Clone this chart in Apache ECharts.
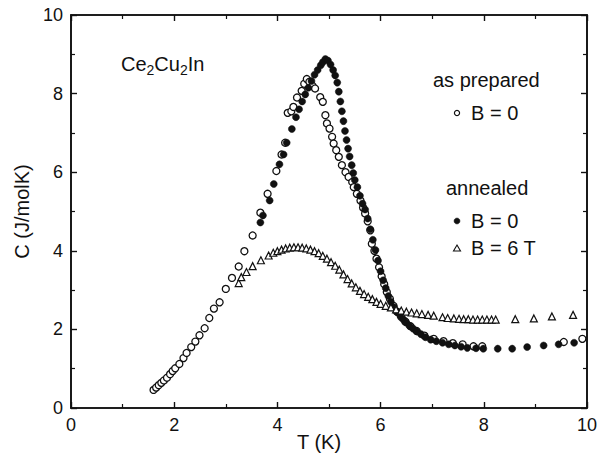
<!DOCTYPE html>
<html>
<head>
<meta charset="utf-8">
<script src="https://cdn.jsdelivr.net/npm/echarts@6/dist/echarts.min.js"></script>
<style>
  html, body { margin: 0; padding: 0; background: #fff; }
  #chart { width: 611px; height: 456px; }
</style>
</head>
<body>
<div id="chart"></div>
<script>
// Specific heat of Ce2Cu2In: [T (K), C (J/molK)] pairs.
const preparedB0 = [
  [1.60, 0.46], [1.65, 0.52], [1.70, 0.58], [1.75, 0.64], [1.80, 0.70], [1.86, 0.77],
  [1.92, 0.86], [1.97, 0.94], [2.02, 1.01], [2.10, 1.12], [2.18, 1.27], [2.24, 1.40],
  [2.33, 1.55], [2.41, 1.69], [2.49, 1.85], [2.59, 2.03], [2.68, 2.29], [2.77, 2.53],
  [2.88, 2.69], [3.00, 3.03], [3.12, 3.31], [3.25, 3.60], [3.36, 3.99], [3.52, 4.39],
  [3.67, 4.97], [3.81, 5.45], [3.98, 6.03], [4.08, 6.45], [4.15, 6.75], [4.20, 7.51],
  [4.27, 7.55], [4.31, 7.66], [4.38, 7.90], [4.47, 8.07], [4.52, 8.25], [4.57, 8.37],
  [4.62, 8.30], [4.68, 8.20], [4.73, 8.13], [4.83, 7.91], [4.88, 7.79], [4.93, 7.45],
  [4.96, 7.24], [5.01, 7.11], [5.06, 6.90], [5.09, 6.73], [5.14, 6.56], [5.19, 6.39],
  [5.25, 6.18], [5.32, 6.00], [5.38, 5.88], [5.45, 5.75], [5.48, 5.62], [5.54, 5.45],
  [5.61, 5.28], [5.66, 5.10], [5.70, 4.95], [5.75, 4.75], [5.80, 4.52], [5.83, 4.18],
  [5.88, 4.00], [5.92, 3.80], [5.97, 3.58], [6.02, 3.35], [6.07, 3.15], [6.12, 2.95],
  [6.18, 2.78], [6.25, 2.60], [6.32, 2.45], [6.40, 2.32], [6.48, 2.20], [6.58, 2.08],
  [6.70, 1.96], [6.85, 1.84], [7.03, 1.76], [7.22, 1.70], [7.40, 1.65], [7.59, 1.62],
  [7.80, 1.57], [7.97, 1.57], [9.55, 1.68], [9.91, 1.76]
];

const annealedB0 = [
  [3.67, 4.72], [3.72, 4.90], [3.85, 5.28], [3.93, 5.70], [4.04, 6.20], [4.12, 6.45],
  [4.18, 6.75], [4.28, 7.10], [4.36, 7.40], [4.42, 7.60], [4.48, 7.80], [4.54, 7.98],
  [4.60, 8.15], [4.66, 8.32], [4.72, 8.48], [4.78, 8.60], [4.84, 8.72], [4.88, 8.80],
  [4.93, 8.88], [4.98, 8.84], [5.03, 8.74], [5.08, 8.60], [5.12, 8.46], [5.16, 8.28],
  [5.19, 8.05], [5.22, 7.80], [5.25, 7.55], [5.28, 7.30], [5.31, 7.05], [5.34, 6.82],
  [5.37, 6.60], [5.40, 6.40], [5.44, 6.18], [5.47, 5.98], [5.50, 5.80], [5.55, 5.62],
  [5.60, 5.40], [5.65, 5.20], [5.70, 5.05], [5.75, 4.82], [5.80, 4.55], [5.85, 4.28],
  [5.90, 4.02], [5.95, 3.75], [6.00, 3.48], [6.05, 3.25], [6.10, 3.05], [6.15, 2.85],
  [6.20, 2.70], [6.26, 2.56], [6.32, 2.44], [6.38, 2.35], [6.44, 2.25], [6.50, 2.17],
  [6.56, 2.09], [6.63, 2.02], [6.70, 1.95], [6.78, 1.88], [6.87, 1.80], [6.97, 1.74],
  [7.08, 1.70], [7.20, 1.66], [7.32, 1.62], [7.44, 1.59], [7.56, 1.56], [7.68, 1.53],
  [7.85, 1.52], [7.99, 1.51], [8.27, 1.51], [8.55, 1.51], [8.84, 1.55], [9.16, 1.59],
  [9.45, 1.62], [9.75, 1.66]
];

const annealedB6 = [
  [3.25, 3.18], [3.30, 3.33], [3.40, 3.46], [3.52, 3.61], [3.68, 3.76], [3.83, 3.88],
  [3.92, 3.95], [4.00, 3.99], [4.08, 4.03], [4.16, 4.06], [4.24, 4.08], [4.32, 4.09],
  [4.40, 4.09], [4.48, 4.08], [4.56, 4.06], [4.64, 4.03], [4.72, 3.99], [4.80, 3.94],
  [4.88, 3.87], [4.96, 3.80], [5.04, 3.71], [5.12, 3.62], [5.20, 3.52], [5.28, 3.40],
  [5.36, 3.28], [5.44, 3.17], [5.52, 3.07], [5.60, 2.98], [5.68, 2.90], [5.76, 2.83],
  [5.84, 2.77], [5.92, 2.70], [6.00, 2.65], [6.10, 2.60], [6.20, 2.56], [6.30, 2.51],
  [6.40, 2.48], [6.50, 2.45], [6.60, 2.43], [6.70, 2.41], [6.80, 2.39], [6.92, 2.37],
  [7.03, 2.35], [7.20, 2.31], [7.30, 2.29], [7.42, 2.28], [7.52, 2.27], [7.61, 2.26],
  [7.70, 2.26], [7.79, 2.25], [7.88, 2.25], [7.97, 2.25], [8.06, 2.25], [8.15, 2.25],
  [8.23, 2.25], [8.61, 2.26], [8.97, 2.28], [9.32, 2.33], [9.73, 2.37]
];

const xTicks = [0, 2, 4, 6, 8, 10];
const yTicks = [0, 2, 4, 6, 8, 10];

const FONT = "'Liberation Sans', Arial, sans-serif";
const INK = "#111";

function axisBase(position, showLabel, ticks) {
  return {
    type: "value",
    position: position,
    min: 0,
    max: 10,
    interval: 2,
    axisLine: { show: true, onZero: false, lineStyle: { color: INK, width: 1.6 } },
    axisTick: { show: true, inside: true, interval: 0, length: 6, lineStyle: { color: INK, width: 1.4 } },
    minorTick: { show: true, splitNumber: 2, length: 4, lineStyle: { color: INK, width: 1.2 } },
    splitLine: { show: false },
    axisLabel: {
      show: showLabel,
      color: INK,
      fontFamily: FONT,
      fontSize: 18,
      formatter: (v) => (ticks.includes(v) ? String(v) : "")
    }
  };
}

function label(text, x, y) {
  return {
    type: "text",
    x: x,
    y: y,
    style: { text: text, fill: INK, fontFamily: FONT, fontSize: 20, verticalAlign: "middle" }
  };
}

// svg renderer: every stroke is its own node
const chart = echarts.init(document.getElementById("chart"), null, { renderer: "svg" });

const xBottom = axisBase("bottom", true, xTicks);
const xTop = axisBase("top", false, xTicks);
const yLeft = axisBase("left", true, yTicks);
yLeft.name = "C (J/molK)";
yLeft.nameLocation = "middle";
yLeft.nameGap = 38;
yLeft.nameTextStyle = { color: INK, fontFamily: FONT, fontSize: 20 };
const yRight = axisBase("right", false, yTicks);

chart.setOption({
  animation: false,
  backgroundColor: "#fff",
  grid: { left: 71, right: 24, top: 15, bottom: 48, show: true, borderColor: INK, borderWidth: 1.6, backgroundColor: "transparent" },
  xAxis: [xBottom, xTop],
  yAxis: [yLeft, yRight],
  graphic: [
    {
      type: "text",
      left: 121,
      top: 54,
      style: {
        text: "{a|Ce}{s|2}{a|Cu}{s|2}{a|In}",
        fill: INK,
        rich: {
          a: { fontFamily: FONT, fontSize: 20, lineHeight: 20, verticalAlign: "top", fill: INK },
          s: { fontFamily: FONT, fontSize: 14, lineHeight: 14, verticalAlign: "top", padding: [9, 0, 0, 0], fill: INK }
        }
      }
    },
    label("as prepared", 433, 80),
    { type: "circle", shape: { cx: 457, cy: 113, r: 2.6 }, style: { fill: "#fff", stroke: INK, lineWidth: 1.2 } },
    label("B = 0", 471, 113),
    label("annealed", 446, 188),
    { type: "circle", shape: { cx: 457, cy: 221, r: 3 }, style: { fill: INK, stroke: INK, lineWidth: 0.5 } },
    label("B = 0", 471, 221),
    { type: "polygon", shape: { points: [[457, 245], [460.5, 251], [453.5, 251]] }, style: { fill: "#fff", stroke: INK, lineWidth: 1.1 } },
    label("B = 6 T", 471, 248),
    label("T (K)", 297, 442)
  ],
  series: [
    {
      name: "as prepared, B = 0",
      type: "scatter",
      data: preparedB0,
      symbol: "circle",
      symbolSize: 7,
      itemStyle: { color: "#fff", borderColor: INK, borderWidth: 1.3, opacity: 1 }
    },
    {
      name: "annealed, B = 0",
      type: "scatter",
      data: annealedB0,
      symbol: "circle",
      symbolSize: 7,
      itemStyle: { color: INK, borderColor: INK, borderWidth: 0.5, opacity: 1 }
    },
    {
      name: "annealed, B = 6 T",
      type: "scatter",
      data: annealedB6,
      symbol: "triangle",
      symbolSize: 7,
      itemStyle: { color: "#fff", borderColor: INK, borderWidth: 1.2, opacity: 1 }
    }
  ]
});
</script>
</body>
</html>
